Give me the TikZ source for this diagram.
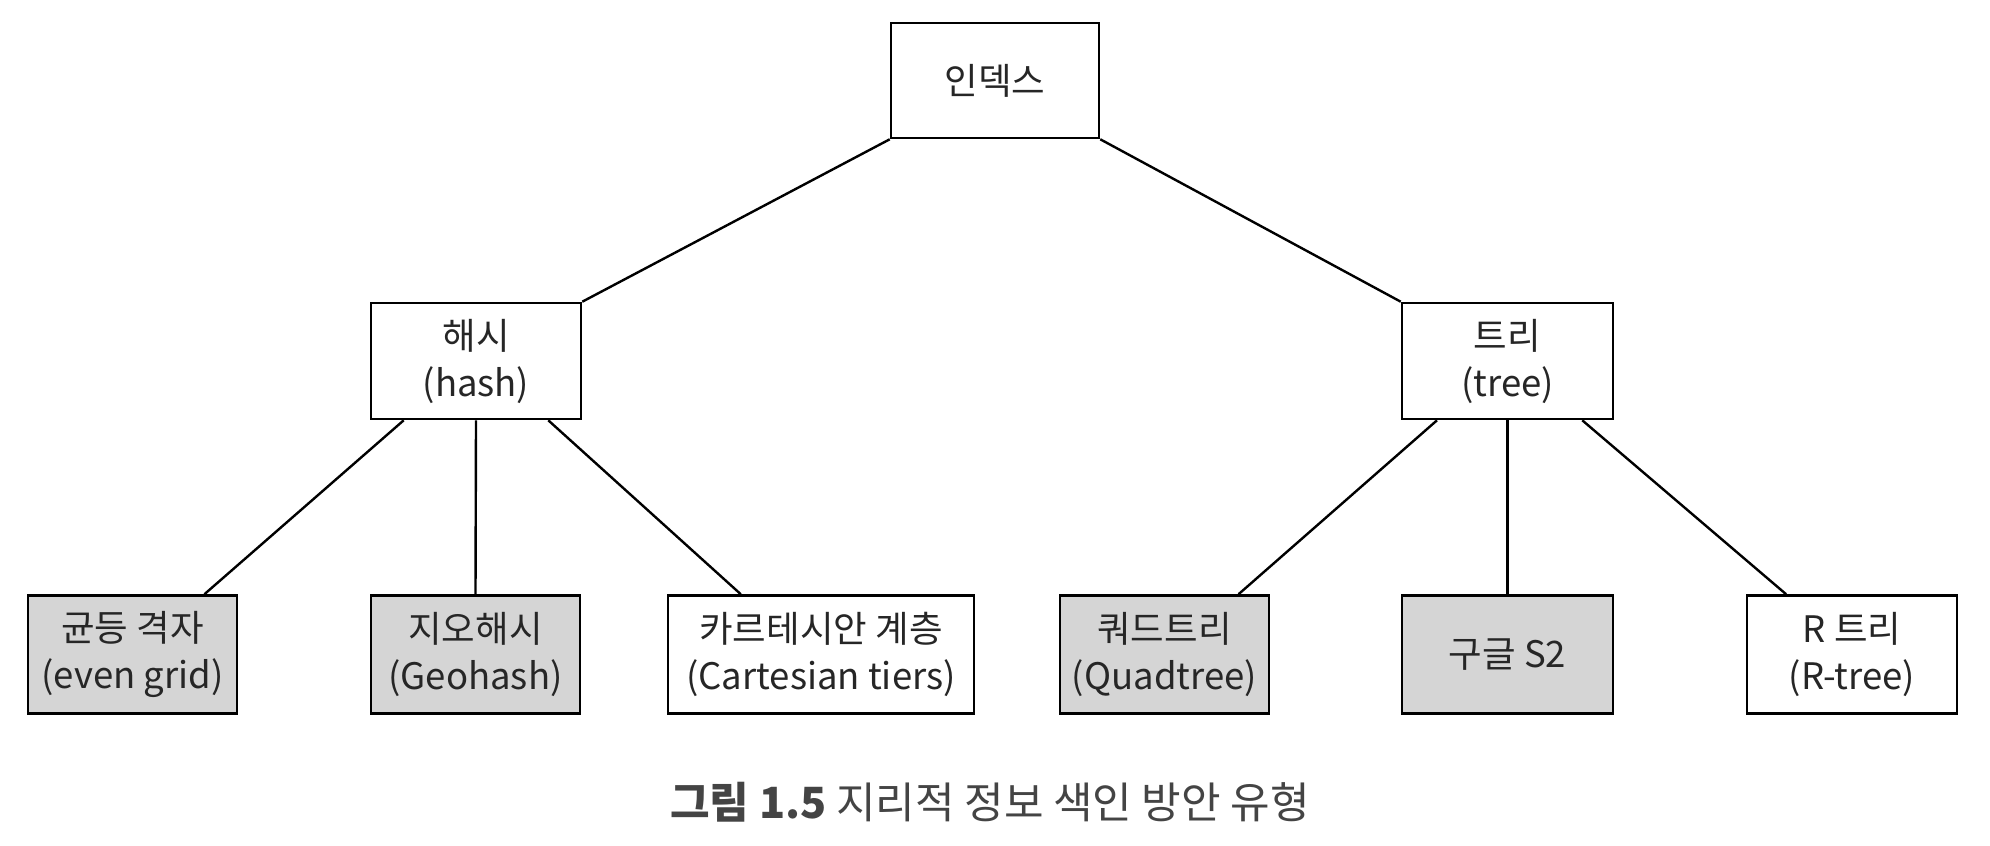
\documentclass[tikz,border=0pt]{standalone}
\usepackage{fontspec}
\setmainfont{Noto Sans CJK KR}
\usetikzlibrary{calc}
\definecolor{boxgray}{HTML}{D5D5D5}
\definecolor{capgray}{HTML}{444444}
\tikzset{
  box/.style={draw=black, line width=2.6pt, rectangle, align=center, inner sep=0pt,
    font=\fontsize{36.5}{47}\selectfont, text=black!85},
  white box/.style={box, fill=white},
  gray box/.style={box, fill=boxgray},
  link/.style={draw=black, line width=2.4pt},
}
\begin{document}
\begin{tikzpicture}[x=1pt,y=-1pt]
\useasboundingbox[fill=white] (0,0) rectangle (1990,846);
% top
\node[white box, minimum width=208pt, minimum height=115pt] (idx) at (995,80.5) {인덱스};
% middle
\node[white box, minimum width=210pt, minimum height=116pt] (hash) at (476,361) {해시\\(hash)};
\node[white box, minimum width=211pt, minimum height=116pt] (tree) at (1507.5,361) {트리\\(tree)};
% bottom
\node[gray box, minimum width=209pt, minimum height=118pt] (even) at (132.5,654.5) {균등 격자\\(even grid)};
\node[gray box, minimum width=209pt, minimum height=118pt] (geo) at (475.5,654.5) {지오해시\\(Geohash)};
\node[white box, minimum width=306pt, minimum height=118pt] (cart) at (821,654.5) {카르테시안 계층\\(Cartesian tiers)};
\node[gray box, minimum width=209pt, minimum height=118pt] (quad) at (1164.5,654.5) {쿼드트리\\(Quadtree)};
\node[gray box, minimum width=211pt, minimum height=118pt] (s2) at (1507.5,654.5) {구글 S2};
\node[white box, minimum width=210pt, minimum height=118pt] (rtree) at (1852,654.5) {R 트리\\(R-tree)};
% caption
\node[font=\fontsize{43}{50}\selectfont, text=capgray, inner sep=0pt] (cap) at (990,802) {\textbf{그림 1.5} 지리적 정보 색인 방안 유형};
% connectors
\draw[link] (idx.south west) -- (hash.north east);
\draw[link] (idx.south east) -- (tree.north west);
\draw[link] ($(hash.south west)!0.16!(hash.south east)$) -- ($(even.north west)!0.84!(even.north east)$);
\draw[link] (hash.south) -- (geo.north);
\draw[link] ($(hash.south west)!0.84!(hash.south east)$) -- ($(cart.north west)!0.24!(cart.north east)$);
\draw[link] ($(tree.south west)!0.17!(tree.south east)$) -- ($(quad.north west)!0.85!(quad.north east)$);
\draw[link] (tree.south) -- (s2.north);
\draw[link] ($(tree.south west)!0.85!(tree.south east)$) -- ($(rtree.north west)!0.19!(rtree.north east)$);
\end{tikzpicture}
\end{document}
